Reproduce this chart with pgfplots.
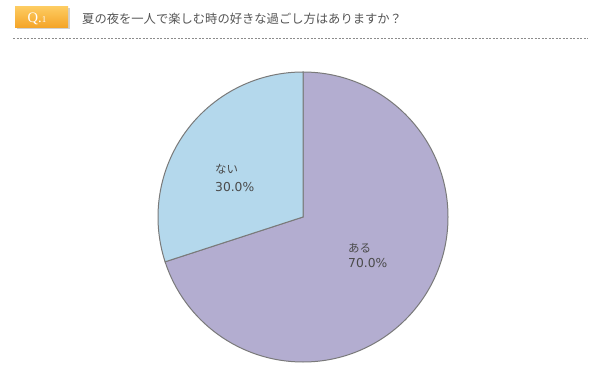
\documentclass[border=0pt]{standalone}
\usepackage{pgfplots}
\pgfplotsset{compat=1.18}
\usepackage{pgfplotstable}
\usepackage{fontspec}
\setmainfont{Noto Sans CJK JP}
\newfontfamily\qfont{Liberation Serif}
\newfontfamily\numfont{DejaVu Sans}
\definecolor{aru}{HTML}{B3ADD0}
\definecolor{nai}{HTML}{B4D8EC}
\definecolor{edge}{HTML}{7A7A7A}
\definecolor{txt}{HTML}{4A4A4A}
\definecolor{ttl}{HTML}{555555}
\definecolor{qtop}{HTML}{FDCB60}
\definecolor{qbot}{HTML}{F4A326}
\pgfplotstableread{
label value
ある 70.0
ない 30.0
}\piedata
\begin{document}
\begin{tikzpicture}[x=1pt,y=1pt]
\pgfplotstablegetelem{0}{value}\of\piedata \global\let\vA\pgfplotsretval
\pgfplotstablegetelem{1}{value}\of\piedata \global\let\vB\pgfplotsretval
\useasboundingbox (0,0) rectangle (600,375);
\fill[white] (0,0) rectangle (600,375);
% header
\fill[black!18] (16.5,345.5) rectangle (69.5,366.5);
\shade[top color=qtop, bottom color=qbot] (15,347) rectangle (68,368);
\node[text=white, inner sep=0, anchor=base] at (37,352) {\qfont\fontsize{14.5}{14.5}\selectfont Q.{\fontsize{9}{9}\selectfont 1}};
\node[anchor=west, text=ttl, inner sep=0] at (82,356) {\fontsize{12.3}{14}\selectfont 夏の夜を一人で楽しむ時の好きな過ごし方はありますか？};
\draw[black!45, dash pattern=on 2pt off 1.5pt, line width=0.6pt] (13,337) -- (588,337);
% pie
\begin{axis}[at={(0pt,0pt)}, anchor=south west, x=145pt, y=145pt,
  xmin=-2.089655, xmax=2.048276, ymin=-1.089655, ymax=1.496552,
  hide axis, clip=false]
\filldraw[fill=aru, draw=edge, line width=1pt] (axis cs:0,0) -- (axis cs:0,1)
  arc[start angle=90, delta angle={-3.6*\vA}, radius=145pt] -- cycle;
\filldraw[fill=nai, draw=edge, line width=1pt] (axis cs:0,0) -- (axis cs:0,1)
  arc[start angle=90, delta angle={3.6*\vB}, radius=145pt] -- cycle;
\node[anchor=base west, inner sep=0, text=txt, font=\fontsize{11.5}{12}\selectfont] at (axis cs:-0.607,0.2966) {ない};
\node[anchor=base west, inner sep=0, text=txt, font=\numfont\fontsize{12.3}{12}\selectfont] at (axis cs:-0.607,0.1793) {30.0\%};
\node[anchor=base west, inner sep=0, text=txt, font=\fontsize{11.5}{12}\selectfont] at (axis cs:0.3103,-0.2414) {ある};
\node[anchor=base west, inner sep=0, text=txt, font=\numfont\fontsize{12.3}{12}\selectfont] at (axis cs:0.3103,-0.3517) {70.0\%};
\end{axis}
\end{tikzpicture}
\end{document}
